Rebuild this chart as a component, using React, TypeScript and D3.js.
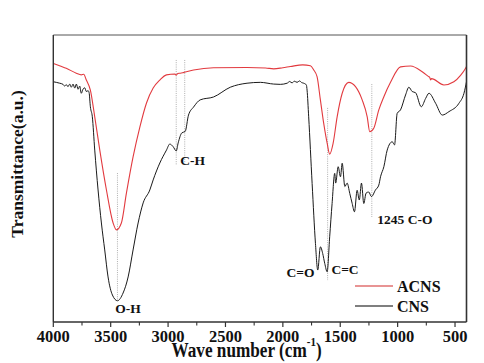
import React from "react";
import * as d3 from "d3";

// ---- data ----
const acnsWave = [4000, 3940, 3887, 3800, 3756, 3735, 3712, 3677, 3639, 3595, 3537, 3479, 3450, 3407, 3363, 3305, 3246, 3188, 3130, 3072, 3014, 2941, 2929, 2915, 2894, 2868, 2778, 2604, 2312, 2150, 2080, 2000, 1935, 1827, 1760, 1731, 1702, 1673, 1644, 1614, 1592, 1562, 1527, 1483, 1426, 1367, 1309, 1265, 1243, 1208, 1164, 1120, 1062, 975, 887, 786, 730, 720, 713, 705, 597, 510, 450, 408, 400];
const acnsT = [90.1, 89.2, 88.4, 86.7, 86.1, 86.3, 84.3, 80.8, 71.5, 59.9, 46.0, 34.5, 32.1, 34.5, 44.9, 57.5, 67.9, 76.3, 81.5, 84.3, 86.1, 86.4, 86.0, 86.6, 86.7, 86.9, 87.8, 88.6, 88.7, 88.5, 88.2, 88.6, 89.0, 89.6, 89.3, 87.8, 85.5, 77.4, 69.2, 62.3, 58.5, 62.3, 71.5, 79.7, 83.5, 82.0, 77.4, 71.5, 66.3, 67.5, 73.9, 78.5, 83.5, 88.9, 89.2, 87.2, 85.5, 85.2, 84.3, 84.8, 82.6, 83.7, 86.0, 88.4, 89.0];

const cnsWave = [4000, 3974, 3944, 3915, 3901, 3887, 3872, 3857, 3843, 3828, 3813, 3799, 3784, 3770, 3756, 3741, 3726, 3712, 3697, 3688, 3677, 3660, 3639, 3610, 3581, 3552, 3523, 3485, 3441, 3392, 3348, 3305, 3261, 3217, 3159, 3130, 3072, 3014, 2985, 2956, 2929, 2912, 2880, 2851, 2822, 2778, 2720, 2604, 2458, 2312, 2196, 2080, 2022, 1963, 1940, 1920, 1900, 1876, 1855, 1835, 1818, 1795, 1789, 1775, 1745, 1716, 1696, 1673, 1653, 1635, 1614, 1592, 1571, 1548, 1540, 1518, 1498, 1483, 1460, 1440, 1417, 1396, 1376, 1353, 1334, 1315, 1295, 1275, 1252, 1228, 1193, 1164, 1149, 1120, 1091, 1047, 1027, 1004, 975, 931, 902, 873, 844, 794, 756, 727, 669, 611, 553, 466, 422, 400];
const cnsT = [83.7, 83.5, 83.2, 82.8, 82.2, 82.7, 82.0, 82.9, 81.8, 82.9, 81.5, 82.9, 81.1, 82.2, 79.7, 81.1, 81.6, 80.3, 80.6, 79.9, 75.0, 71.5, 59.9, 46.0, 34.5, 25.1, 15.7, 9.4, 7.4, 10.1, 15.7, 25.1, 34.5, 41.5, 46.0, 49.5, 55.4, 59.9, 62.0, 61.1, 59.6, 62.4, 65.9, 66.4, 72.1, 74.9, 77.4, 78.4, 81.8, 83.2, 83.5, 82.9, 82.8, 83.2, 83.8, 83.3, 83.9, 83.5, 84.0, 83.4, 83.2, 82.6, 80.8, 71.5, 48.3, 27.4, 18.1, 26.2, 23.9, 20.4, 17.5, 29.7, 41.3, 51.8, 48.4, 54.1, 50.6, 55.3, 47.2, 48.4, 44.8, 41.3, 38.4, 45.9, 42.5, 48.4, 41.3, 44.9, 45.3, 43.7, 46.0, 47.7, 50.6, 54.1, 59.9, 62.8, 61.7, 72.7, 73.9, 79.1, 81.8, 80.3, 79.9, 75.0, 77.9, 79.7, 76.2, 72.1, 73.3, 76.2, 79.7, 83.7];

const majorTicks = [4000, 3500, 3000, 2500, 2000, 1500, 1000, 500];
const minorTicks = [3750, 3250, 2750, 2250, 1750, 1250, 750];

// dotted marker lines: wavenumber, top and bottom (transmittance units)
const markerWave = [3441, 2929, 2855, 1610, 1225];
const markerTop = [51.9, 91.3, 91.3, 74.6, 82.9];
const markerBottom = [7.6, 54.7, 54.7, 14.6, 36.6];

// peak labels: text, anchor wavenumber, transmittance, text-anchor
const peakText = ["O-H", "C-H", "C=O", "C=C", "1245 C-O"];
const peakWave = [3461, 2894, 1725, 1577, 1177];
const peakT = [3.1, 54.7, 15.7, 16.7, 34.1];
const peakAnchor = ["start", "start", "end", "start", "start"];

const seriesNames = ["ACNS", "CNS"];
const seriesColors = ["#e23a3f", "#1a1a1a"];

const W = 484, H = 363;
const left = 53.3, right = 466.5, top = 35, bottom = 322;
const FONT = "'Liberation Serif', 'Times New Roman', serif";

export default function App() {
  const x = d3.scaleLinear().domain([4000, 400]).range([left, right]);
  const y = d3.scaleLinear().domain([0, 100]).range([bottom, top]);
  const line = d3
    .line<[number, number]>()
    .x((d) => x(d[0]))
    .y((d) => y(d[1]))
    .curve(d3.curveMonotoneX);

  const acns = acnsWave.map((w, i) => [w, acnsT[i]] as [number, number]);
  const cns = cnsWave.map((w, i) => [w, cnsT[i]] as [number, number]);

  return (
    <svg
      width={W}
      height={H}
      style={{ position: "absolute", left: 0, top: 0, background: "#fff" }}
      fontFamily={FONT}
      fontWeight="bold"
    >
      <rect x={0} y={0} width={W} height={H} fill="#fff" />
      {/* dotted marker lines */}
      {markerWave.map((w, i) => (
        <line
          key={"m" + i}
          x1={x(w)}
          x2={x(w)}
          y1={y(markerTop[i])}
          y2={y(markerBottom[i])}
          stroke="#9a9a9a"
          strokeWidth={0.8}
          strokeDasharray="1,1.2"
        />
      ))}
      {/* curves */}
      <path d={line(cns) || ""} fill="none" stroke={seriesColors[1]} strokeWidth={1} />
      <path d={line(acns) || ""} fill="none" stroke={seriesColors[0]} strokeWidth={1.1} />
      {/* frame */}
      <line x1={left} x2={right} y1={top} y2={top} stroke="#555" strokeWidth={1} />
      <line x1={right} x2={right} y1={top} y2={bottom} stroke="#333" strokeWidth={1.6} />
      <line x1={left} x2={left} y1={top} y2={bottom} stroke="#333" strokeWidth={1.4} />
      <line x1={left} x2={right} y1={bottom} y2={bottom} stroke="#333" strokeWidth={1.4} />
      {/* ticks */}
      {majorTicks.map((t) => (
        <g key={"t" + t}>
          <line x1={x(t)} x2={x(t)} y1={bottom} y2={bottom + 5} stroke="#333" strokeWidth={1.2} />
          <text x={x(t)} y={342} textAnchor="middle" fontSize={16.5} fill="#111">
            {t}
          </text>
        </g>
      ))}
      {minorTicks.map((t) => (
        <line key={"n" + t} x1={x(t)} x2={x(t)} y1={bottom} y2={bottom + 3.5} stroke="#333" strokeWidth={1.1} />
      ))}
      {/* axis titles */}
      <text transform="translate(171.5,356.5) scale(1,1.18)" fontSize={17.2} fill="#111">
        Wave number (cm
        <tspan dy={-9} fontSize={11}>-1</tspan>
        <tspan dy={9}>)</tspan>
      </text>
      <text
        transform={`translate(23,${164}) rotate(-90)`}
        textAnchor="middle"
        fontSize={17.5}
        fill="#111"
      >
        Transmittance(a.u.)
      </text>
      {/* peak labels */}
      {peakText.map((t, i) => (
        <text
          key={"p" + i}
          x={x(peakWave[i])}
          y={y(peakT[i])}
          textAnchor={peakAnchor[i] as any}
          fontSize={13.5}
          fill="#111"
        >
          {t}
        </text>
      ))}
      {/* legend */}
      {seriesNames.map((n, i) => (
        <g key={"l" + n}>
          <line x1={355} x2={393} y1={286 + i * 20} y2={286 + i * 20} stroke={i === 0 ? "#e07070" : "#555"} strokeWidth={1.3} />
          <text x={397} y={291.5 + i * 20} fontSize={16} fill="#111">
            {n}
          </text>
        </g>
      ))}
    </svg>
  );
}
